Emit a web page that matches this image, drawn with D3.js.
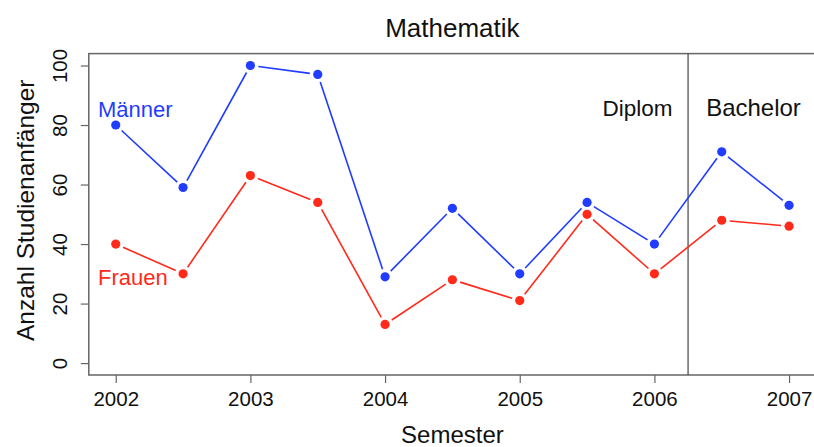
<!DOCTYPE html>
<html>
<head>
<meta charset="utf-8">
<script src="https://cdn.jsdelivr.net/npm/d3@7"></script>
<style>
  html, body { margin: 0; padding: 0; background: #fff; }
  svg { display: block; font-family: "Liberation Sans", Arial, Helvetica, sans-serif; }
</style>
</head>
<body>
<svg id="chart" width="814" height="447"></svg>
<script>
// ---- data ----
const semesters = [2002, 2002.5, 2003, 2003.5, 2004, 2004.5, 2005, 2005.5, 2006, 2006.5, 2007];
const maenner   = [80, 59, 100, 97, 29, 52, 30, 54, 40, 71, 53];
const frauen    = [40, 30, 63, 54, 13, 28, 21, 50, 30, 48, 46];
const xTicks = [2002, 2003, 2004, 2005, 2006, 2007];
const yTicks = [0, 20, 40, 60, 80, 100];
const divider = 2006.25;
const title = "Mathematik";
const xTitle = "Semester";
const yTitle = "Anzahl Studienanfänger";
const series = [
  { name: "Männer", values: maenner, color: "#1f3cff" },
  { name: "Frauen", values: frauen, color: "#ff2a1a" }
];
const regions = ["Diplom", "Bachelor"];

// ---- layout ----
const svg = d3.select("#chart");
const pL = 88.8, pR = 816, pT = 53.6, pB = 375;
// R-style 4% extension
const x = d3.scaleLinear().domain([2001.8, 2007.2]).range([pL, pR]);
const y = d3.scaleLinear().domain([-4, 104]).range([pB, pT]);

// box
svg.append("rect")
  .attr("x", pL).attr("y", pT)
  .attr("width", pR - pL).attr("height", pB - pT)
  .attr("fill", "none").attr("stroke", "#666").attr("stroke-width", 1.5);

// x axis
const xAxis = svg.append("g").attr("transform", `translate(0,${pB})`)
  .call(d3.axisBottom(x).tickValues(xTicks).tickFormat(d3.format("d")).tickSize(8).tickPadding(8));
xAxis.select(".domain").remove();
xAxis.selectAll(".tick line").attr("stroke", "#666").attr("stroke-width", 1.2);
xAxis.selectAll(".tick text").attr("font-size", "20.5px").attr("fill", "#111")
  .attr("font-family", "Liberation Sans, Arial, sans-serif");

// y axis
const yAxis = svg.append("g").attr("transform", `translate(${pL},0)`)
  .call(d3.axisLeft(y).tickValues(yTicks).tickSize(8).tickFormat(d3.format("d")));
yAxis.select(".domain").remove();
yAxis.selectAll(".tick line").attr("stroke", "#666").attr("stroke-width", 1.2);
yAxis.selectAll(".tick text").remove();
yAxis.selectAll(".tick").append("text")
  .attr("transform", "translate(-22,0) rotate(-90)")
  .attr("text-anchor", "middle")
  .attr("fill", "#111")
  .attr("font-size", "20.5px")
  .attr("font-family", "Liberation Sans, Arial, sans-serif")
  .text(d => d);

// divider
svg.append("line")
  .attr("x1", x(divider)).attr("x2", x(divider))
  .attr("y1", pT).attr("y2", pB)
  .attr("stroke", "#444").attr("stroke-width", 1.2);

// series: type "b" lines with gaps + points
const gap = 8;
series.forEach(s => {
  const pts = semesters.map((d, i) => [x(d), y(s.values[i])]);
  const g = svg.append("g");
  for (let i = 0; i < pts.length - 1; i++) {
    const [x1, y1] = pts[i], [x2, y2] = pts[i + 1];
    const dx = x2 - x1, dy = y2 - y1, L = Math.hypot(dx, dy);
    if (L <= 2 * gap) continue;
    const ux = dx / L, uy = dy / L;
    g.append("line")
      .attr("x1", x1 + ux * gap).attr("y1", y1 + uy * gap)
      .attr("x2", x2 - ux * gap).attr("y2", y2 - uy * gap)
      .attr("stroke", s.color).attr("stroke-width", 1.6);
  }
  g.selectAll("circle").data(s.values).join("circle")
    .attr("cx", (d, i) => x(semesters[i]))
    .attr("cy", d => y(d))
    .attr("r", 4.6)
    .attr("fill", s.color);
});

// series labels
svg.append("text").attr("x", 98).attr("y", 117).attr("fill", series[0].color)
  .attr("font-size", "22px").text(series[0].name);
svg.append("text").attr("x", 98).attr("y", 285).attr("fill", series[1].color)
  .attr("font-size", "22px").text(series[1].name);

// region labels
svg.append("text").attr("x", 637.5).attr("y", 116).attr("text-anchor", "middle")
  .attr("fill", "#111").attr("font-size", "22.5px").text(regions[0]);
svg.append("text").attr("x", 753.5).attr("y", 116).attr("text-anchor", "middle")
  .attr("fill", "#111").attr("font-size", "24px").text(regions[1]);

// title
svg.append("text").attr("x", (pL + pR) / 2).attr("y", 37).attr("text-anchor", "middle")
  .attr("fill", "#111").attr("font-size", "26px").text(title);

// axis titles
svg.append("text").attr("x", (pL + pR) / 2).attr("y", 443).attr("text-anchor", "middle")
  .attr("fill", "#111").attr("font-size", "24px").text(xTitle);
svg.append("text").attr("transform", `translate(34,${(pT + pB) / 2 - 4}) rotate(-90)`)
  .attr("text-anchor", "middle")
  .attr("fill", "#111").attr("font-size", "24.5px").text(yTitle);
</script>
</body>
</html>
